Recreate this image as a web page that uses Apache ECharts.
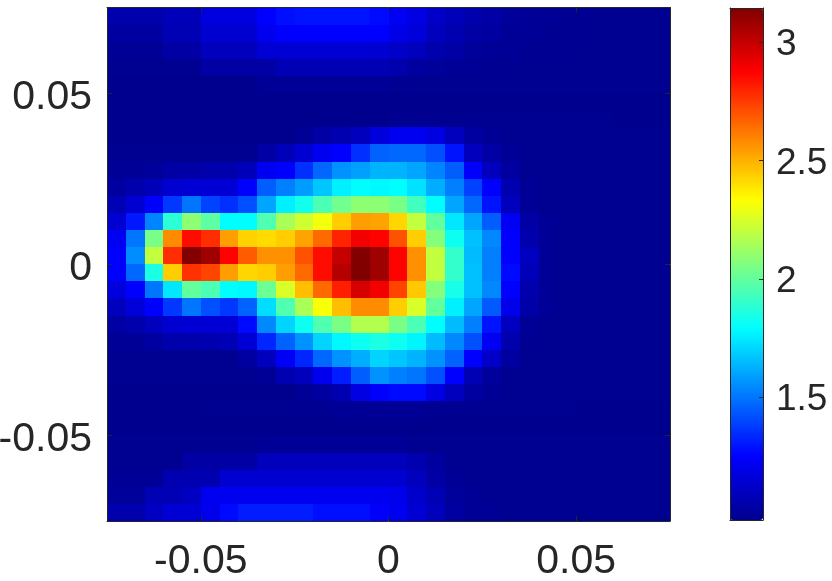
<!DOCTYPE html>
<html>
<head>
<meta charset="utf-8">
<style>html,body{margin:0;padding:0;background:#fff}#c{width:832px;height:581px}</style>
<script src="https://cdn.jsdelivr.net/npm/echarts@6/dist/echarts.min.js"></script>
</head>
<body>
<div id="c"></div>
<script>
const xTicks = [-0.05, 0, 0.05];
const yTicks = [-0.05, 0, 0.05];
const barTicks = [1.5, 2, 2.5, 3];
const valueMin = 0.98;
const valueMax = 3.145;
const jet = ['#00008f','#0000ff','#0080ff','#00ffff','#80ff80','#ffff00','#ff8000','#ff0000','#800000'];
const xCenters = [-0.0725,-0.0675,-0.0625,-0.0575,-0.0525,-0.0475,-0.0425,-0.0375,-0.0325,-0.0275,-0.0225,-0.0175,-0.0125,-0.0075,-0.0025,0.0025,0.0075,0.0125,0.0175,0.0225,0.0275,0.0325,0.0375,0.0425,0.0475,0.0525,0.0575,0.0625,0.0675,0.0725];
const yCenters = [0.0725,0.0675,0.0625,0.0575,0.0525,0.0475,0.0425,0.0375,0.0325,0.0275,0.0225,0.0175,0.0125,0.0075,0.0025,-0.0025,-0.0075,-0.0125,-0.0175,-0.0225,-0.0275,-0.0325,-0.0375,-0.0425,-0.0475,-0.0525,-0.0575,-0.0625,-0.0675,-0.0725];
const cellHalf = 0.0025;
const r00=[1.05,1.05,1.05,1.08,1.08,1.17,1.17,1.17,1.25,1.28,1.29,1.29,1.29,1.29,1.27,1.22,1.18,1.12,1.08,1.05,1.03,1.01,1.0,1.0,0.99,0.99,0.985,0.985,0.985,0.985];
const r01=[1.02,1.02,1.02,1.07,1.07,1.14,1.14,1.14,1.21,1.25,1.25,1.25,1.25,1.25,1.25,1.19,1.165,1.09,1.06,1.03,1.02,1.0,1.0,0.99,0.99,0.99,0.985,0.985,0.985,0.985];
const r02=[1.0,1.0,1.0,1.03,1.03,1.09,1.09,1.09,1.15,1.15,1.15,1.15,1.15,1.15,1.14,1.12,1.09,1.05,1.03,1.01,1.0,1.0,0.99,0.99,0.99,0.985,0.985,0.985,0.985,0.985];
const r03=[0.985,0.985,0.985,0.985,0.985,1.03,1.03,1.03,1.03,1.07,1.07,1.07,1.07,1.07,1.07,1.05,1.02,1.01,1.0,1.0,0.99,0.99,0.985,0.985,0.985,0.985,0.985,0.985,0.985,0.985];
const r04=[0.98,0.98,0.98,0.98,0.98,0.98,0.98,0.98,1.0,1.0,1.0,1.0,1.0,1.0,1.0,0.99,0.99,0.985,0.985,0.985,0.985,0.985,0.985,0.985,0.985,0.985,0.985,0.985,0.985,0.985];
const r05=[0.98,0.98,0.98,0.98,0.98,0.98,0.98,0.98,0.98,0.98,0.98,0.98,0.98,0.98,0.98,0.98,0.98,0.98,0.98,0.98,0.98,0.98,0.98,0.98,0.98,0.98,0.98,0.98,0.98,0.98];
const r06=[0.98,0.98,0.98,0.98,0.98,0.98,0.98,0.98,0.98,0.98,0.98,0.98,0.98,0.98,0.98,0.985,0.985,0.985,0.985,0.985,0.985,0.985,0.985,0.985,0.985,0.985,0.985,0.98,0.98,0.98];
const r07=[0.98,0.98,0.98,0.98,0.98,0.98,0.98,0.98,0.98,0.98,1.0,1.03,1.06,1.09,1.165,1.215,1.215,1.18,1.09,1.02,1.0,0.985,0.985,0.985,0.985,0.985,0.985,0.985,0.985,0.985];
const r08=[0.985,0.985,0.985,0.985,0.985,0.985,0.985,0.985,1.03,1.08,1.14,1.215,1.25,1.35,1.46,1.47,1.47,1.42,1.29,1.09,1.03,1.0,0.985,0.985,0.985,0.985,0.985,0.985,0.985,0.985];
const r09=[1.0,1.0,1.01,1.03,1.03,1.05,1.05,1.08,1.215,1.25,1.35,1.47,1.56,1.59,1.63,1.63,1.6,1.53,1.45,1.24,1.09,1.02,0.985,0.985,0.985,0.985,0.985,0.985,0.985,0.985];
const r10=[1.02,1.05,1.08,1.14,1.15,1.15,1.15,1.25,1.45,1.52,1.58,1.67,1.76,1.79,1.78,1.79,1.73,1.62,1.52,1.39,1.25,1.06,1.0,0.985,0.985,0.985,0.985,0.985,0.985,0.985];
const r11=[1.07,1.14,1.25,1.37,1.5,1.39,1.35,1.42,1.6,1.76,1.83,1.95,2.03,2.09,2.09,2.05,1.93,1.79,1.6,1.47,1.29,1.09,1.0,0.985,0.985,0.985,0.985,0.985,0.985,0.985];
const r12=[1.14,1.3,1.53,1.88,2.09,1.99,1.79,1.79,1.96,2.15,2.23,2.31,2.44,2.54,2.53,2.42,2.2,2.0,1.74,1.6,1.45,1.22,1.03,1.0,0.985,0.985,0.985,0.985,0.985,0.985];
const r13=[1.22,1.5,2.05,2.58,2.85,2.78,2.54,2.43,2.41,2.44,2.53,2.65,2.8,2.9,2.87,2.7,2.44,2.07,1.82,1.66,1.54,1.25,1.05,1.0,0.985,0.985,0.985,0.985,0.985,0.985];
const r14=[1.25,1.55,2.2,2.78,3.14,3.08,2.87,2.68,2.57,2.57,2.7,2.85,3.0,3.14,3.08,2.87,2.57,2.2,1.9,1.65,1.52,1.25,1.1,1.0,0.985,0.985,0.985,0.985,0.985,0.985];
const r15=[1.25,1.47,1.85,2.44,2.77,2.73,2.54,2.42,2.44,2.54,2.65,2.85,3.03,3.145,3.08,2.87,2.57,2.2,1.9,1.66,1.52,1.27,1.08,1.0,0.985,0.985,0.985,0.985,0.985,0.985];
const r16=[1.17,1.25,1.5,1.74,2.0,1.95,1.79,1.78,2.02,2.25,2.47,2.65,2.81,2.96,2.9,2.73,2.45,2.07,1.84,1.66,1.54,1.25,1.05,1.0,0.985,0.985,0.985,0.985,0.985,0.985];
const r17=[1.09,1.16,1.25,1.37,1.5,1.42,1.37,1.46,1.72,1.96,2.15,2.32,2.47,2.58,2.58,2.44,2.25,2.0,1.76,1.6,1.44,1.2,1.04,1.0,0.985,0.985,0.985,0.985,0.985,0.985];
const r18=[1.03,1.05,1.09,1.14,1.15,1.15,1.15,1.27,1.54,1.7,1.82,1.96,2.05,2.17,2.17,2.05,1.95,1.79,1.65,1.52,1.29,1.1,1.0,0.985,0.985,0.985,0.985,0.985,0.985,0.985];
const r19=[1.0,1.0,1.02,1.05,1.05,1.06,1.07,1.15,1.33,1.46,1.56,1.7,1.78,1.82,1.85,1.82,1.77,1.65,1.54,1.42,1.22,1.05,0.99,0.985,0.985,0.985,0.985,0.985,0.985,0.985];
const r20=[0.985,0.985,0.985,0.985,0.985,0.985,0.985,1.02,1.09,1.23,1.33,1.47,1.56,1.62,1.7,1.67,1.63,1.56,1.46,1.25,1.12,1.02,0.985,0.985,0.985,0.985,0.985,0.985,0.985,0.985];
const r21=[0.985,0.985,0.985,0.985,0.985,0.985,0.985,0.985,1.0,1.06,1.09,1.21,1.31,1.45,1.56,1.52,1.5,1.42,1.25,1.07,1.01,0.985,0.985,0.985,0.985,0.985,0.985,0.985,0.985,0.985];
const r22=[0.98,0.98,0.98,0.98,0.98,0.98,0.98,0.98,0.98,0.98,1.0,1.02,1.06,1.18,1.24,1.27,1.27,1.18,1.09,1.02,1.0,0.985,0.985,0.985,0.985,0.985,0.985,0.985,0.985,0.985];
const r23=[0.98,0.98,0.98,0.98,0.98,0.985,0.985,0.985,0.985,0.985,0.99,0.99,1.0,1.0,1.0,1.0,1.0,0.99,0.99,0.985,0.985,0.985,0.985,0.985,0.985,0.98,0.98,0.98,0.98,0.98];
const r24=[0.98,0.98,0.98,0.98,0.98,0.98,0.98,0.98,0.98,0.98,0.98,0.98,0.98,0.98,0.98,0.98,0.98,0.98,0.98,0.98,0.98,0.98,0.98,0.98,0.98,0.98,0.98,0.98,0.98,0.98];
const r25=[0.985,0.985,0.985,0.985,0.985,0.985,0.985,0.985,1.0,1.0,1.0,1.0,1.0,1.0,1.0,1.0,0.985,0.985,0.985,0.985,0.985,0.985,0.985,0.985,0.985,0.985,0.985,0.985,0.985,0.985];
const r26=[0.985,0.985,0.985,0.985,1.03,1.03,1.03,1.03,1.09,1.09,1.09,1.09,1.09,1.09,1.09,1.09,1.06,1.02,0.985,0.985,0.985,0.985,0.985,0.985,0.985,0.985,0.985,0.985,0.985,0.985];
const r27=[1.0,1.0,1.0,1.06,1.06,1.06,1.14,1.14,1.14,1.14,1.14,1.14,1.14,1.14,1.14,1.14,1.09,1.03,1.0,0.985,0.985,0.985,0.985,0.985,0.985,0.985,0.985,0.985,0.985,0.985];
const r28=[1.01,1.01,1.07,1.07,1.105,1.215,1.215,1.215,1.215,1.215,1.215,1.215,1.215,1.215,1.215,1.2,1.13,1.07,1.01,1.0,0.985,0.985,0.985,0.985,0.985,0.985,0.985,0.985,0.985,0.985];
const r29=[1.05,1.05,1.105,1.15,1.15,1.2,1.27,1.31,1.31,1.31,1.31,1.28,1.28,1.28,1.24,1.215,1.15,1.09,1.02,1.0,1.0,0.985,0.985,0.985,0.985,0.985,0.985,0.985,0.985,0.985];
const rows=[r00,r01,r02,r03,r04,r05,r06,r07,r08,r09,r10,r11,r12,r13,r14,r15,r16,r17,r18,r19,r20,r21,r22,r23,r24,r25,r26,r27,r28,r29];

const cells=[];
rows.forEach((row,r)=>row.forEach((v,c)=>cells.push([xCenters[c],yCenters[r],v])));

const ink='#262626';
const font='"Liberation Sans", Arial, sans-serif';
const plotBox={left:107,top:7.5,width:563,height:513.5};
const barBox={left:730,top:8,width:33,height:512};
const plotLabelBox={left:107,top:12,width:563,height:513.5};
const barLabelBox={left:730,top:11,width:33,height:512};
const gridOf=box=>Object.assign({show:false,outerBoundsMode:'none'},box);
const fr=v=>String(v);
const hidden={show:false};
const edge={show:true,onZero:false,lineStyle:{color:ink,width:1}};

function xVal(position,labels){return {type:'value',gridIndex:0,min:-0.075,max:0.075,position,z:10,
  splitLine:hidden,axisLine:edge,
  axisTick:{show:true,inside:true,length:5,customValues:xTicks,lineStyle:{color:ink,width:1}},
  axisLabel:{show:labels,customValues:xTicks,formatter:fr,color:ink,fontSize:41,fontFamily:font,margin:20}};}
function yVal(position){return {type:'value',gridIndex:0,min:-0.075,max:0.075,position,z:10,
  splitLine:hidden,axisLine:edge,axisLabel:hidden,
  axisTick:{show:true,inside:true,length:5,customValues:yTicks,lineStyle:{color:ink,width:1}}};}
function snap(a){return Math.round(a);}

const chart=echarts.init(document.getElementById('c'),null,{renderer:'canvas'});
chart.setOption({
  animation:false,
  backgroundColor:'#fff',
  grid:[gridOf(plotBox),gridOf(barBox),gridOf(plotLabelBox),gridOf(barLabelBox)],
  xAxis:[
    xVal('bottom',true),
    xVal('top',false),
    {type:'value',gridIndex:1,min:0,max:1,position:'bottom',z:10,splitLine:hidden,axisTick:hidden,axisLabel:hidden,axisLine:edge},
    {type:'value',gridIndex:1,min:0,max:1,position:'top',z:10,splitLine:hidden,axisTick:hidden,axisLabel:hidden,axisLine:edge},
    {type:'value',gridIndex:2,min:0,max:1,show:false},
    {type:'value',gridIndex:3,min:0,max:1,show:false}
  ],
  yAxis:[
    yVal('left'),
    yVal('right'),
    {type:'value',gridIndex:1,min:valueMin,max:valueMax,position:'right',z:10,splitLine:hidden,axisLine:edge,axisLabel:hidden,
     axisTick:{show:true,inside:true,length:4,customValues:barTicks,lineStyle:{color:ink,width:1}}},
    {type:'value',gridIndex:1,min:valueMin,max:valueMax,position:'left',z:10,splitLine:hidden,axisTick:hidden,axisLabel:hidden,axisLine:edge},
    {type:'value',gridIndex:2,min:-0.075,max:0.075,position:'left',splitLine:hidden,axisTick:hidden,axisLine:{show:false},
     axisLabel:{show:true,customValues:yTicks,formatter:fr,color:ink,fontSize:41,fontFamily:font,margin:15}},
    {type:'value',gridIndex:3,min:valueMin,max:valueMax,position:'right',splitLine:hidden,axisTick:hidden,axisLine:{show:false},
     axisLabel:{show:true,customValues:barTicks,formatter:fr,color:ink,fontSize:37,fontFamily:font,margin:13}}
  ],
  visualMap:{type:'continuous',seriesIndex:0,dimension:2,min:valueMin,max:valueMax,calculable:false,realtime:false,hoverLink:false,
    left:barBox.left,top:barBox.top,itemWidth:barBox.width,itemHeight:barBox.height,padding:0,
    orient:'vertical',showLabel:false,inRange:{color:jet},z:4},
  series:[{type:'custom',xAxisIndex:0,yAxisIndex:0,data:cells,silent:true,clip:false,encode:{x:0,y:1},
    renderItem:function(params,api){
      const p0=api.coord([api.value(0)-cellHalf,api.value(1)+cellHalf]);
      const p1=api.coord([api.value(0)+cellHalf,api.value(1)-cellHalf]);
      const x=snap(p0[0]),y=snap(p0[1]);
      return {type:'rect',shape:{x:x,y:y,width:snap(p1[0])-x,height:snap(p1[1])-y},style:{fill:api.visual('color')}};
    }}]
});
</script>
</body>
</html>
